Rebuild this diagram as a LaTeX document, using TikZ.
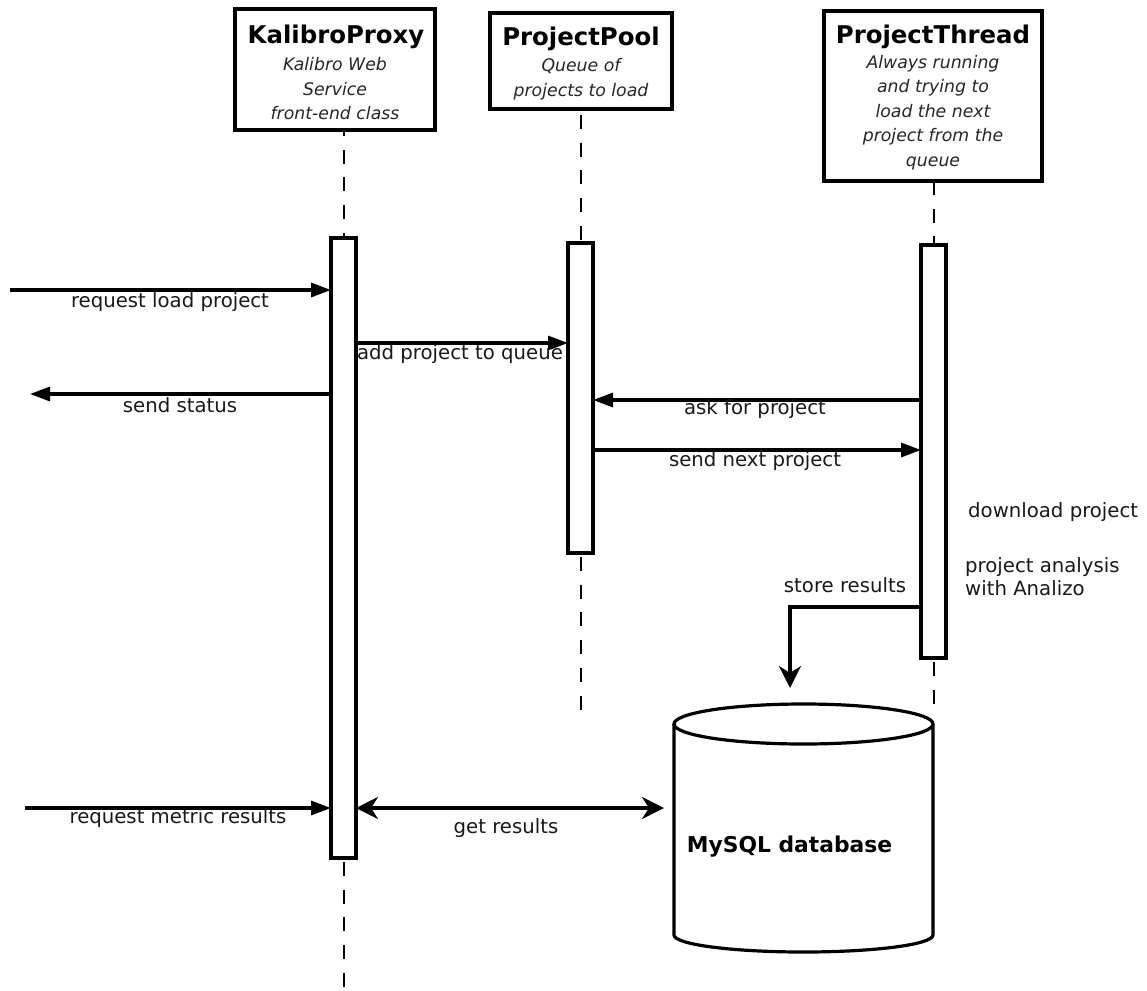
\documentclass[tikz,border=0pt]{standalone}
\usepackage{fontspec}
\setmainfont{DejaVu Sans}[ItalicFont={DejaVu Sans Oblique},BoldFont={DejaVu Sans Bold},BoldItalicFont={DejaVu Sans Bold Oblique}]
\usetikzlibrary{arrows.meta}
\begin{document}
\begin{tikzpicture}[x=1pt,y=-1pt,
  headbox/.style={draw, line width=3.2pt, fill=white, inner sep=0pt, outer sep=0pt},
  ttl/.style={font=\bfseries\fontsize{24.4}{28}\selectfont, inner sep=0pt},
  subt/.style={font=\itshape\fontsize{17.3}{24.5}\selectfont, align=center, inner sep=0pt, text=black!85},
  lbl/.style={font=\fontsize{19.7}{23}\selectfont, inner sep=0pt, text=black!90},
  life/.style={line width=2pt, dash pattern=on 14pt off 13.7pt},
  actbar/.style={draw, line width=3.2pt, fill=white, minimum width=25pt, inner sep=0pt, outer sep=0pt},
  msg/.style={line width=3.2pt, -{Triangle[length=20pt,width=14pt]}},
  stl/.style={line width=3.2pt, -{Stealth[length=22pt,width=22pt,inset=7pt]}},
  dstl/.style={line width=3.2pt, {Stealth[length=22pt,width=22pt,inset=7pt]}-{Stealth[length=22pt,width=22pt,inset=7pt]}},
]
\fill[white] (0,0) rectangle (1147,990);
\useasboundingbox (0,0) rectangle (1147,990);

% header boxes
\node[headbox, minimum width=200pt, minimum height=121pt] (kp) at (335,69.5) {};
\node[ttl] (kpt) at (336,37) {KalibroProxy};
\node[subt] (kps) at (335,89) {Kalibro Web\\Service\\front-end class};

\node[headbox, minimum width=182pt, minimum height=96pt] (pp) at (581,61) {};
\node[ttl] (ppt) at (581,39) {ProjectPool};
\node[subt] (pps) at (581,79) {Queue of\\projects to load};

\node[headbox, minimum width=218pt, minimum height=170pt] (pt) at (933,96) {};
\node[ttl] (ptt) at (933,37) {ProjectThread};
\node[subt] (pts) at (933,112.5) {Always running\\and trying to\\load the next\\project from the\\queue};

% activation bars
\node[actbar, minimum height=620pt] (kpb) at (343.5,548) {};
\node[actbar, minimum height=310pt] (ppb) at (580.5,398) {};
\node[actbar, minimum height=413pt] (ptb) at (933.5,451.5) {};

% lifelines
\coordinate (kpend) at (343.5,990);
\coordinate (ppend) at (580.5,710);
\coordinate (ptend) at (933.5,715);
\draw[life, dash phase=8pt] (kp.south -| kpb.north) -- (kpb.north);
\draw[life, dash phase=-4pt] (kpb.south) -- (kpend);
\draw[life, dash phase=-6pt] (pp.south -| ppb.north) -- (ppb.north);
\draw[life, dash phase=-4pt] (ppb.south) -- (ppend);
\draw[life] (pt.south -| ptb.north) -- (ptb.north);
\draw[life, dash phase=-4pt] (ptb.south) -- (ptend);

% database cylinder
\fill[white] (674,724) -- (674,935) .. controls (674,944.4) and (732,952) .. (803.5,952)
  .. controls (875,952) and (933,944.4) .. (933,935) -- (933,724) -- cycle;
\draw[line width=3.2pt] (674,724) -- (674,935) .. controls (674,944.4) and (732,952) .. (803.5,952)
  .. controls (875,952) and (933,944.4) .. (933,935) -- (933,724);
\draw[line width=3.2pt, fill=white] (803.5,724) ellipse [x radius=129.5, y radius=20];
\node[font=\bfseries\fontsize{21.8}{25}\selectfont, inner sep=0pt] (db) at (789.5,847) {MySQL database};
\coordinate (dbin) at (664,808);
\coordinate (dbtop) at (790,688);

% messages
\coordinate (in1) at (10,290);
\draw[msg] (in1) -- (in1 -| kpb.west);
\node[lbl] (l1) at (170,302) {request load project};

\draw[msg] (kpb.east |- 0,343) -- (ppb.west |- 0,343);
\node[lbl] (l2) at (460,354) {add project to queue};

\coordinate (out1) at (30,394);
\draw[msg] (kpb.west |- out1) -- (out1);
\node[lbl] (l3) at (180,405) {send status};

\draw[msg] (ptb.west |- 0,400) -- (ppb.east |- 0,400);
\node[lbl] (l4) at (755,409) {ask for project};

\draw[msg] (ppb.east |- 0,450) -- (ptb.west |- 0,450);
\node[lbl] (l5) at (755,461) {send next project};

\draw[stl] (ptb.west |- 0,607) -| (dbtop);
\node[lbl] (l6) at (845,585) {store results};

\node[lbl, anchor=west] (l7) at (968,512) {download project};
\node[lbl, anchor=west, align=left] (l8) at (965,576.5) {project analysis\\with Analizo};

\coordinate (in2) at (25,808);
\draw[msg] (in2) -- (in2 -| kpb.west);
\node[lbl] (l9) at (178,818) {request metric results};

\draw[dstl] (kpb.east |- dbin) -- (dbin);
\node[lbl] (l10) at (506,828) {get results};
\end{tikzpicture}
\end{document}
